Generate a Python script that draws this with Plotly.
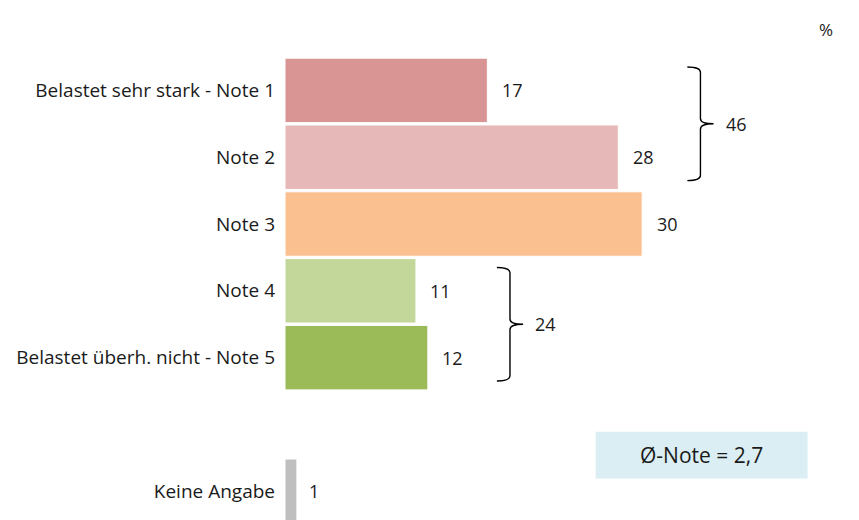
import plotly.graph_objects as go

# Belastung - Verteilung der Noten (Prozent)
categories = ["Belastet sehr stark - Note 1", "Note 2", "Note 3", "Note 4",
              "Belastet überh. nicht - Note 5", "Keine Angabe"]
values = [17, 28, 30, 11, 12, 1]
rows = [0, 1, 2, 3, 4, 6]
colors = ["#D99594", "#E6B8B7", "#FAC090", "#C4D79B", "#9BBB59", "#BFBFBF"]

groups = [(0, 1), (3, 4)]  # Noten 1+2 und 4+5
group_totals = [46, 24]
avg_label = "Ø-Note = 2,7"

FONT = "Open Sans"
TXT = "#1a1a1a"

fig = go.Figure()
fig.add_trace(go.Bar(
    x=values, y=rows, orientation="h",
    marker=dict(color=colors, line=dict(color="white", width=1)),
    width=0.965, hoverinfo="skip",
))

# value labels right of bars
for v, r in zip(values, rows):
    off = 2.1 if v > 5 else 1.4
    fig.add_annotation(x=v + off, y=r, text=str(v), showarrow=False,
                       font=dict(size=18, color=TXT, family=FONT))

# curly brackets with group sums
for (a, b), total in zip(groups, group_totals):
    x0 = max(values[a], values[b]) + 5.8
    x1 = x0 + 1.1
    xt = x1 + 1.1
    y0 = rows[a] - 0.35
    y1 = rows[b] + 0.35
    ym = (y0 + y1) / 2
    c = 0.08
    path = (f"M {x0},{y0} Q {x1},{y0} {x1},{y0 + c} "
            f"L {x1},{ym - c} Q {x1},{ym} {xt},{ym} "
            f"Q {x1},{ym} {x1},{ym + c} "
            f"L {x1},{y1 - c} Q {x1},{y1} {x0},{y1}")
    fig.add_shape(type="path", path=path, xref="x", yref="y",
                  line=dict(color="black", width=1.4))
    fig.add_annotation(x=xt + 1.9, y=ym, text=str(total), showarrow=False,
                       font=dict(size=18, color=TXT, family=FONT))

# average box
fig.add_shape(type="rect", xref="x", yref="y", x0=26.1, x1=43.9, y0=5.11, y1=5.81,
              fillcolor="#DAEEF3", line=dict(width=0), layer="below")
fig.add_annotation(x=35.0, y=5.46, text=avg_label, showarrow=False,
                   font=dict(size=21, color=TXT, family=FONT))

fig.add_annotation(x=0.967, y=1.088, xref="paper", yref="paper", text="%",
                   showarrow=False, font=dict(size=17, color=TXT, family=FONT))

# page body has an 8px margin, so the figure is shrunk by that amount
fig.update_layout(
    width=851, height=512,
    margin=dict(l=277, r=5, t=49, b=0, autoexpand=False),
    plot_bgcolor="white", paper_bgcolor="white",
    showlegend=False,
    font=dict(family=FONT, color=TXT),
)
fig.update_xaxes(range=[0, 47.8], visible=False, automargin=False)
fig.update_yaxes(range=[6.43, -0.5], tickvals=rows, ticktext=categories,
                 showgrid=False, zeroline=False, showline=False, ticks="",
                 automargin=False, ticklabelstandoff=9,
                 tickfont=dict(size=19, color=TXT, family=FONT))

fig.write_html("out.html")
